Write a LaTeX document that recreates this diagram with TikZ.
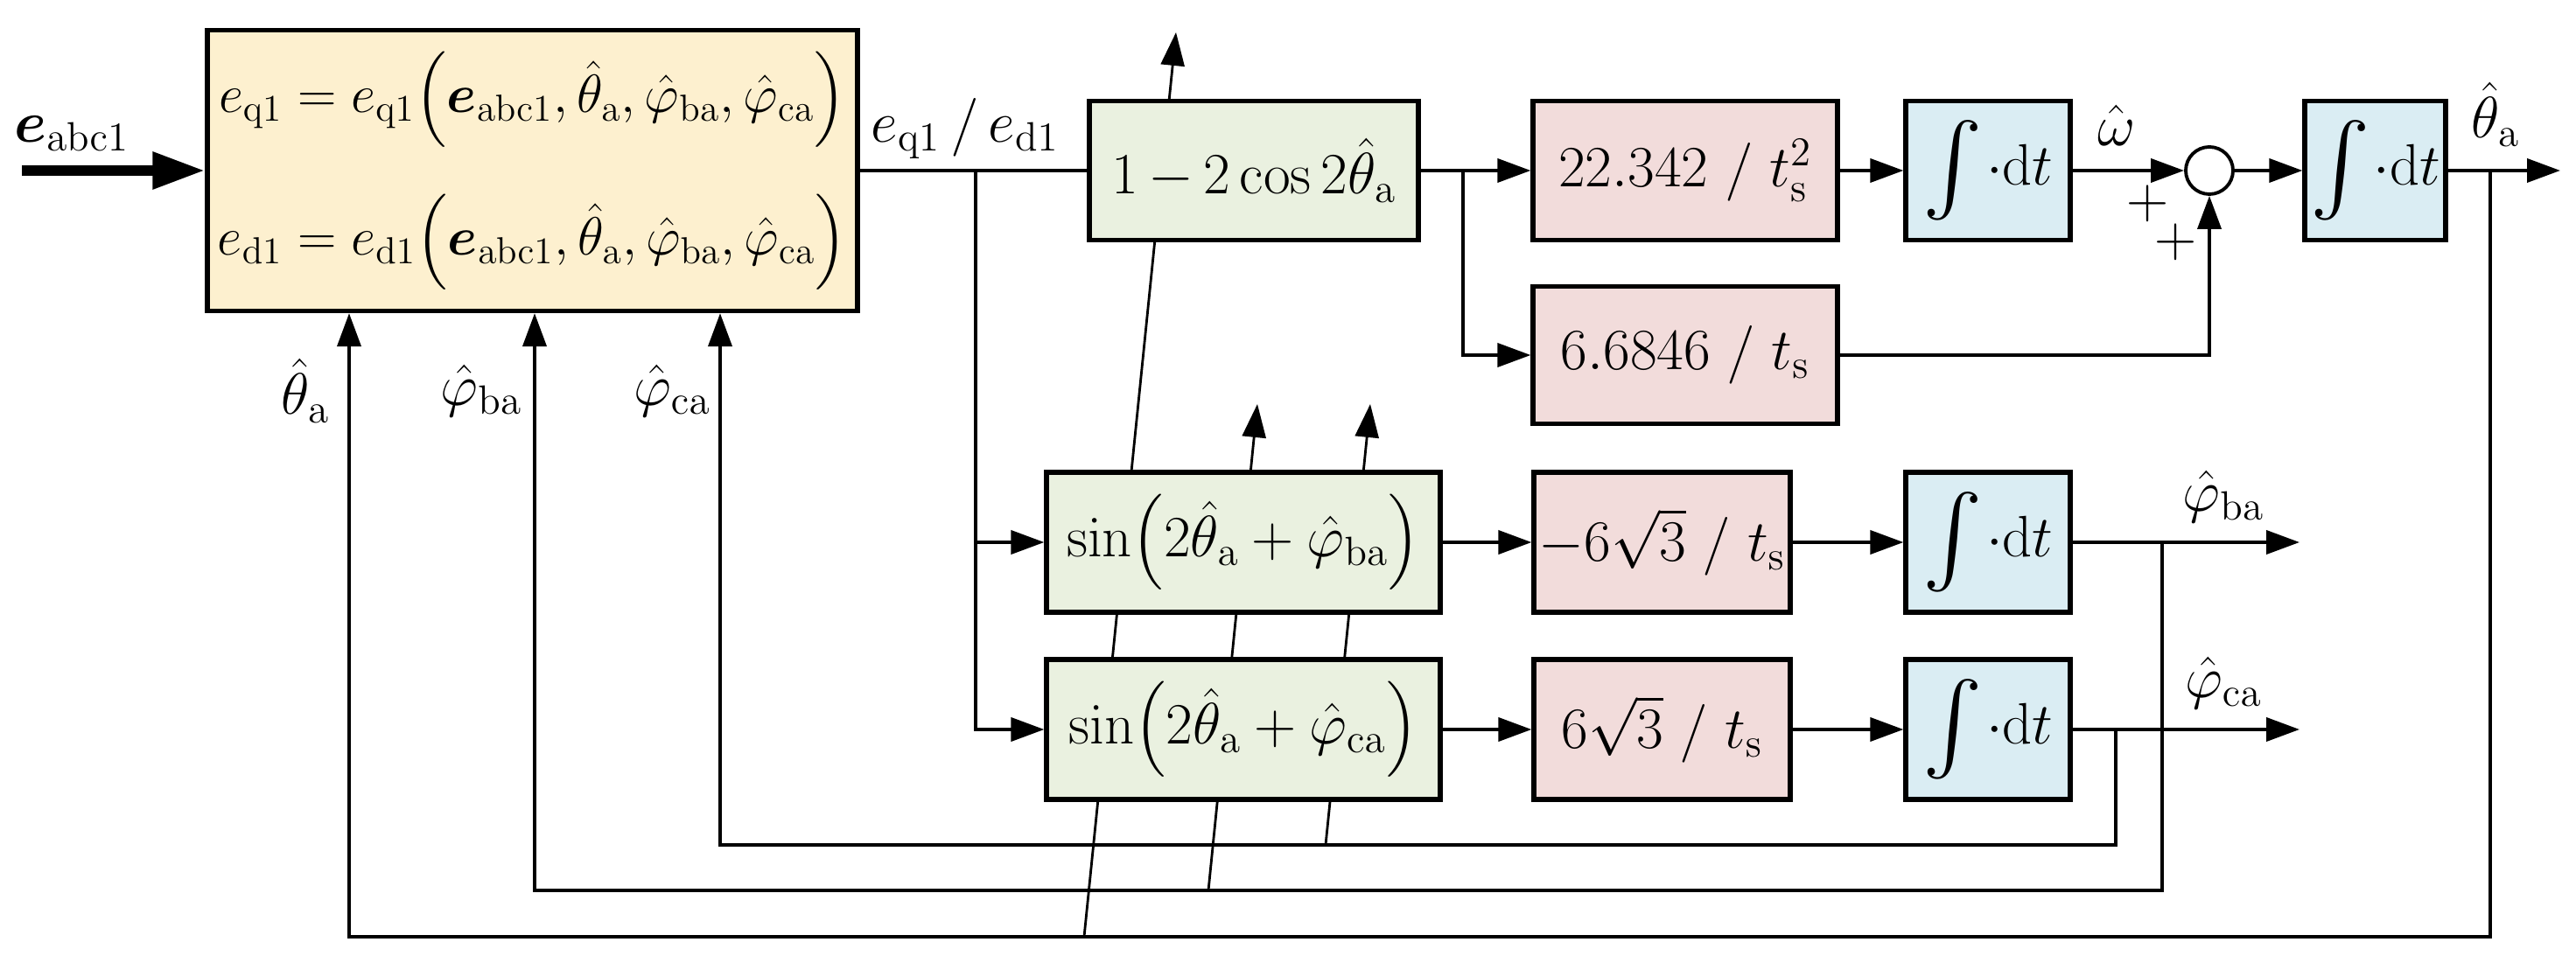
\RequirePackage{fix-cm}
\documentclass[tikz,border=0pt]{standalone}
\usepackage{amsmath}
\usepackage{graphicx}
\usetikzlibrary{arrows.meta,positioning,backgrounds}
\definecolor{estfill}{RGB}{253,240,207}
\definecolor{funfill}{RGB}{234,241,224}
\definecolor{gainfill}{RGB}{242,220,219}
\definecolor{intfill}{RGB}{218,237,243}
\newcommand{\tha}{\hat{\theta}_{\mathrm{a}}}
\newcommand{\phba}{\hat{\varphi}_{\mathrm{ba}}}
\newcommand{\phca}{\hat{\varphi}_{\mathrm{ca}}}
\newcommand{\intdt}{$\vcenter{\hbox{\scalebox{1.7}{$\int$}}}\mkern1mu{\cdot}\mathrm{d}t$}
\begin{document}
\begin{tikzpicture}[>={Triangle[length=3.8mm,width=2.7mm]},x=1cm,y=1cm,scale=1,
  every node/.style={font=\fontsize{19}{23}\selectfont},
  blk/.style={draw,line width=1.5pt,inner sep=0pt,minimum height=1.59cm},
  estbox/.style={blk,fill=estfill,minimum width=7.43cm,minimum height=3.21cm,
    align=center,font=\fontsize{17.5}{20}\selectfont},
  funbox/.style={blk,fill=funfill},
  gainbox/.style={blk,fill=gainfill},
  intbox/.style={blk,fill=intfill,minimum width=1.88cm},
  sig/.style={line width=1.1pt},
  parm/.style={line width=0.8pt}]
\def\yA{-1.95}  % upper row
\def\yB{-6.20}  % sin row b
\def\yC{-8.34}  % sin row c
\useasboundingbox (0,0) rectangle (29.44,-11.01);

% blocks
\node[estbox] (est) at (6.085,\yA)
  {$e_{\mathrm{q1}}=e_{\mathrm{q1}}\!\left(\boldsymbol{e}_{\mathrm{abc1}},\tha,\phba,\phca\right)$\\[5mm]
   $e_{\mathrm{d1}}=e_{\mathrm{d1}}\!\left(\boldsymbol{e}_{\mathrm{abc1}},\tha,\phba,\phca\right)$};
\node[funbox,minimum width=3.76cm] (cosb) at (14.33,\yA) {$1\,{-}\,2\cos 2\tha$};
\node[gainbox,minimum width=3.48cm] (kw) at (19.26,\yA) {$22.342\;/\;t_{\mathrm{s}}^{2}$};
\node[gainbox,minimum width=3.48cm,minimum height=1.57cm] (kp) at (19.26,-4.06) {$6.6846\;/\;t_{\mathrm{s}}$};
\node[intbox] (intw) at (22.72,\yA) {\intdt};
\node[draw,circle,line width=1.1pt,minimum size=0.54cm,inner sep=0pt,fill=white] (sum) at (25.25,\yA) {};
\node[intbox,minimum width=1.61cm] (intth) at (27.145,\yA) {\intdt};
\node[funbox,minimum width=4.5cm,minimum height=1.6cm] (sinb) at (14.21,\yB) {$\sin\!\left(2\tha+\phba\right)$};
\node[funbox,minimum width=4.5cm,minimum height=1.6cm] (sinc) at (14.21,\yC) {$\sin\!\left(2\tha+\phca\right)$};
\node[gainbox,minimum width=2.93cm,minimum height=1.6cm] (kb) at (18.995,\yB) {$-6\sqrt{3}\;/\;t_{\mathrm{s}}$};
\node[gainbox,minimum width=2.93cm,minimum height=1.6cm] (kc) at (18.995,\yC) {$6\sqrt{3}\;/\;t_{\mathrm{s}}$};
\node[intbox,minimum height=1.6cm] (intb) at (22.72,\yB) {\intdt};
\node[intbox,minimum height=1.6cm] (intc) at (22.72,\yC) {\intdt};

% input
\coordinate (in) at (0.25,\yA);
\draw[line width=3.4pt,-{Triangle[length=6mm,width=4mm]}] (in) -- (est.west);
\node (lin) at (0.82,-1.53) {$\boldsymbol{e}_{\mathrm{abc1}}$};

% error signal
\coordinate (br1) at (11.15,\yA);
\draw[sig] (est.east) -- (cosb.west);
\draw[sig,->] (br1) |- (sinb.west);
\draw[sig,->] (br1) |- (sinc.west);
\node (lerr) at (11.03,-1.47) {$e_{\mathrm{q1}}\,/\,e_{\mathrm{d1}}$};

% theta loop
\coordinate (br2) at (16.72,\yA);
\draw[sig,->] (cosb.east) -- (kw.west);
\draw[sig,->] (br2) |- (kp.west);
\draw[sig,->] (kw.east) -- (intw.west);
\draw[sig,->] (intw.east) -- (sum.west);
\draw[sig,->] (kp.east) -| (sum.south);
\draw[sig,->] (sum.east) -- (intth.west);
\coordinate (outa) at (29.26,\yA);
\draw[sig,->] (intth.east) -- (outa);
\node (lw) at (24.19,-1.43) {$\hat{\omega}$};
\node (p1) at (24.55,-2.33) {$+$};
\node (p2) at (24.87,-2.77) {$+$};
\node (lta) at (28.52,-1.31) {$\tha$};

% phase loops
\draw[sig,->] (sinb.east) -- (kb.west);
\draw[sig,->] (kb.east) -- (intb.west);
\coordinate (outb) at (26.28,\yB);
\draw[sig,->] (intb.east) -- (outb);
\node (lpb) at (25.41,-5.68) {$\phba$};
\draw[sig,->] (sinc.east) -- (kc.west);
\draw[sig,->] (kc.east) -- (intc.west);
\coordinate (outc) at (26.28,\yC);
\draw[sig,->] (intc.east) -- (outc);
\node (lpc) at (25.41,-7.81) {$\phca$};

% feedback
\coordinate (brt) at (28.46,\yA);
\coordinate (brb) at (24.71,\yB);
\coordinate (brc) at (24.18,\yC);
\coordinate (fbt) at (3.99,-10.71);
\coordinate (fbb) at (6.11,-10.18);
\coordinate (fbc) at (8.23,-9.66);
\draw[sig,->] (brt) |- (fbt) -- (fbt |- est.south);
\draw[sig,->] (brb) |- (fbb) -- (fbb |- est.south);
\draw[sig,->] (brc) |- (fbc) -- (fbc |- est.south);
\node (fta) at (3.49,-4.47) {$\tha$};
\node (fpb) at (5.50,-4.47) {$\phba$};
\node (fpc) at (7.68,-4.47) {$\phca$};

% parameter arrows through the blocks
\coordinate (st) at (12.39,-10.71);
\coordinate (et) at (13.44,-0.37);
\coordinate (sb) at (13.81,-10.18);
\coordinate (eb) at (14.37,-4.62);
\coordinate (sc) at (15.15,-9.66);
\coordinate (ec) at (15.66,-4.62);
\begin{pgfonlayer}{background}
\draw[parm,->] (st) -- (et);
\draw[parm,->] (sb) -- (eb);
\draw[parm,->] (sc) -- (ec);
\end{pgfonlayer}
\end{tikzpicture}
\end{document}
